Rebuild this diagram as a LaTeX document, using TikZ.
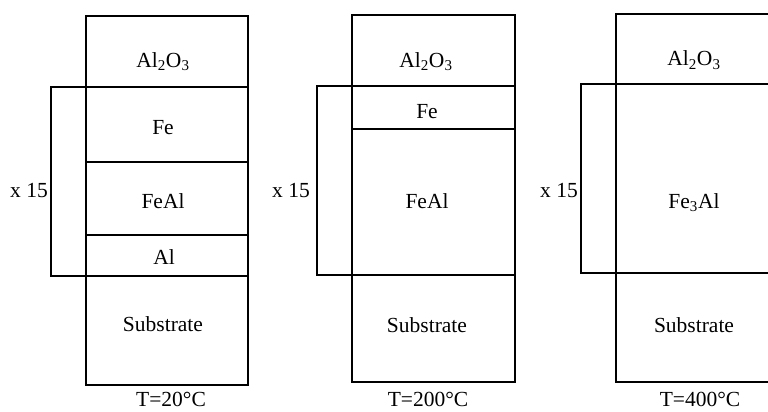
\documentclass[tikz,border=0pt]{standalone}
\usepackage{fontspec}
\setmainfont{Liberation Serif}
\begin{document}
\begin{tikzpicture}[x=1pt,y=-1pt,
  every node/.style={font=\fontsize{21.5}{25}\selectfont},
  layer/.style={draw, line width=1.1pt, inner sep=0pt, outer sep=0pt, anchor=north west},
  lbl/.style={anchor=base, inner sep=0pt},
  bracket/.style={draw, line width=1.1pt},
  mult/.style={anchor=base east, inner sep=0pt}]
\useasboundingbox (0,0) rectangle (768,412);
\clip (0,0) rectangle (768,412);
% ---------- panel 1 : T = 20 C ----------
\node[layer, minimum width=162pt, minimum height=71pt]  (a1)  at (86,16)  {};
\node[layer, minimum width=162pt, minimum height=75pt]  (f1)  at (86,87)  {};
\node[layer, minimum width=162pt, minimum height=73pt]  (fa1) at (86,162) {};
\node[layer, minimum width=162pt, minimum height=41pt]  (al1) at (86,235) {};
\node[layer, minimum width=162pt, minimum height=109pt] (s1)  at (86,276) {};
\node[lbl] (ta1)  at (163,67)  {Al\textsubscript{2}O\textsubscript{3}};
\node[lbl] (tf1)  at (163,134) {Fe};
\node[lbl] (tfa1) at (163,208) {FeAl};
\node[lbl] (tal1) at (164,264) {Al};
\node[lbl] (ts1)  at (163,331) {Substrate};
\node[lbl] (T1)   at (171,406) {T=20°C};
\coordinate (b1) at (51,180);
\draw[bracket] (f1.north west) -| (b1) |- (al1.south west);
\node[mult] (m1) at (48,197) {x 15};
% ---------- panel 2 : T = 200 C ----------
\node[layer, minimum width=163pt, minimum height=71pt]  (a2)  at (352,15)  {};
\node[layer, minimum width=163pt, minimum height=43pt]  (f2)  at (352,86)  {};
\node[layer, minimum width=163pt, minimum height=146pt] (fa2) at (352,129) {};
\node[layer, minimum width=163pt, minimum height=107pt] (s2)  at (352,275) {};
\node[lbl] (ta2)  at (426,67)  {Al\textsubscript{2}O\textsubscript{3}};
\node[lbl] (tf2)  at (427,118) {Fe};
\node[lbl] (tfa2) at (427,208) {FeAl};
\node[lbl] (ts2)  at (427,332) {Substrate};
\node[lbl] (T2)   at (428,406) {T=200°C};
\coordinate (b2) at (317,180);
\draw[bracket] (f2.north west) -| (b2) |- (fa2.south west);
\node[mult] (m2) at (310,197) {x 15};
% ---------- panel 3 : T = 400 C ----------
\node[layer, minimum width=163pt, minimum height=70pt]  (a3)  at (616,14)  {};
\node[layer, minimum width=163pt, minimum height=189pt] (fe3) at (616,84)  {};
\node[layer, minimum width=163pt, minimum height=109pt] (s3)  at (616,273) {};
\node[lbl] (ta3)  at (694,66)  {Al\textsubscript{2}O\textsubscript{3}};
\node[lbl] (tfe3) at (694,208) {Fe\textsubscript{3}Al};
\node[lbl] (ts3)  at (694,332) {Substrate};
\node[lbl] (T3)   at (700,406) {T=400°C};
\coordinate (b3) at (581,180);
\draw[bracket] (fe3.north west) -| (b3) |- (fe3.south west);
\node[mult] (m3) at (578,197) {x 15};
\end{tikzpicture}
\end{document}
